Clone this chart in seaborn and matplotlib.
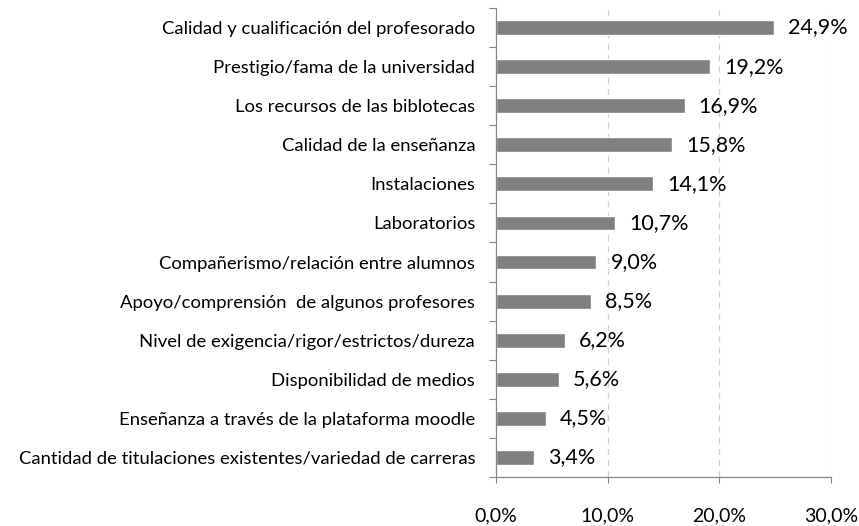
import matplotlib
matplotlib.use("Agg")
import matplotlib.pyplot as plt
from matplotlib.ticker import FixedLocator, FuncFormatter
import seaborn as sns
import pandas as pd

categories = [
    "Calidad y cualificación del profesorado",
    "Prestigio/fama de la universidad",
    "Los recursos de las biblotecas",
    "Calidad de la enseñanza",
    "Instalaciones",
    "Laboratorios",
    "Compañerismo/relación entre alumnos",
    "Apoyo/comprensión  de algunos profesores",
    "Nivel de exigencia/rigor/estrictos/dureza",
    "Disponibilidad de medios",
    "Enseñanza a través de la plataforma moodle",
    "Cantidad de titulaciones existentes/variedad de carreras",
]
values = [24.9, 19.2, 16.9, 15.8, 14.1, 10.7, 9.0, 8.5, 6.2, 5.6, 4.5, 3.4]
x_ticks = [0, 10, 20, 30]

df = pd.DataFrame({"categoria": categories, "porcentaje": values})

sns.set_theme(style="white")
plt.rcParams["font.family"] = ["Lato", "DejaVu Sans"]

fig = plt.figure(figsize=(8.59, 5.26), dpi=100)
ax = fig.add_axes([0.5774, 0.0932, 0.9674 - 0.5774, 0.9848 - 0.0932])

sns.barplot(data=df, x="porcentaje", y="categoria", orient="h",
            color="#808080", saturation=1, width=0.38, ax=ax)

ax.set_xlim(0, 30)
ax.set_ylim(len(categories) - 0.5, -0.5)
ax.set_xlabel("")
ax.set_ylabel("")

# Dashed vertical gridlines
for t in x_ticks[1:]:
    ax.axvline(t, color="#d0d0d0", linestyle=(0, (5, 4)), linewidth=0.9, zorder=0)

pct = lambda v: f"{v:.1f}".replace(".", ",") + "%"

ax.xaxis.set_major_locator(FixedLocator(x_ticks))
ax.xaxis.set_major_formatter(FuncFormatter(lambda v, p: pct(v)))
ax.tick_params(axis="x", which="major", direction="out", length=4, width=0.8,
               color="#868686", labelsize=14, pad=18, labelcolor="#000000", bottom=True)

ax.tick_params(axis="y", which="major", length=0, labelsize=13.3, pad=15, labelcolor="#000000")
ax.yaxis.set_minor_locator(FixedLocator([i - 0.5 for i in range(len(categories) + 1)]))
ax.tick_params(axis="y", which="minor", direction="out", length=5, width=0.8,
               color="#868686", left=True)

for s in ["top", "right"]:
    ax.spines[s].set_visible(False)
for s in ["left", "bottom"]:
    ax.spines[s].set_visible(True)
    ax.spines[s].set_color("#868686")
    ax.spines[s].set_linewidth(0.9)

for i, v in enumerate(values):
    ax.annotate(pct(v), xy=(v, i), xytext=(10, 0),
                textcoords="offset points", va="center", ha="left",
                fontsize=15.5, color="#000000")

fig.savefig("out.png", dpi=100, facecolor="white")
